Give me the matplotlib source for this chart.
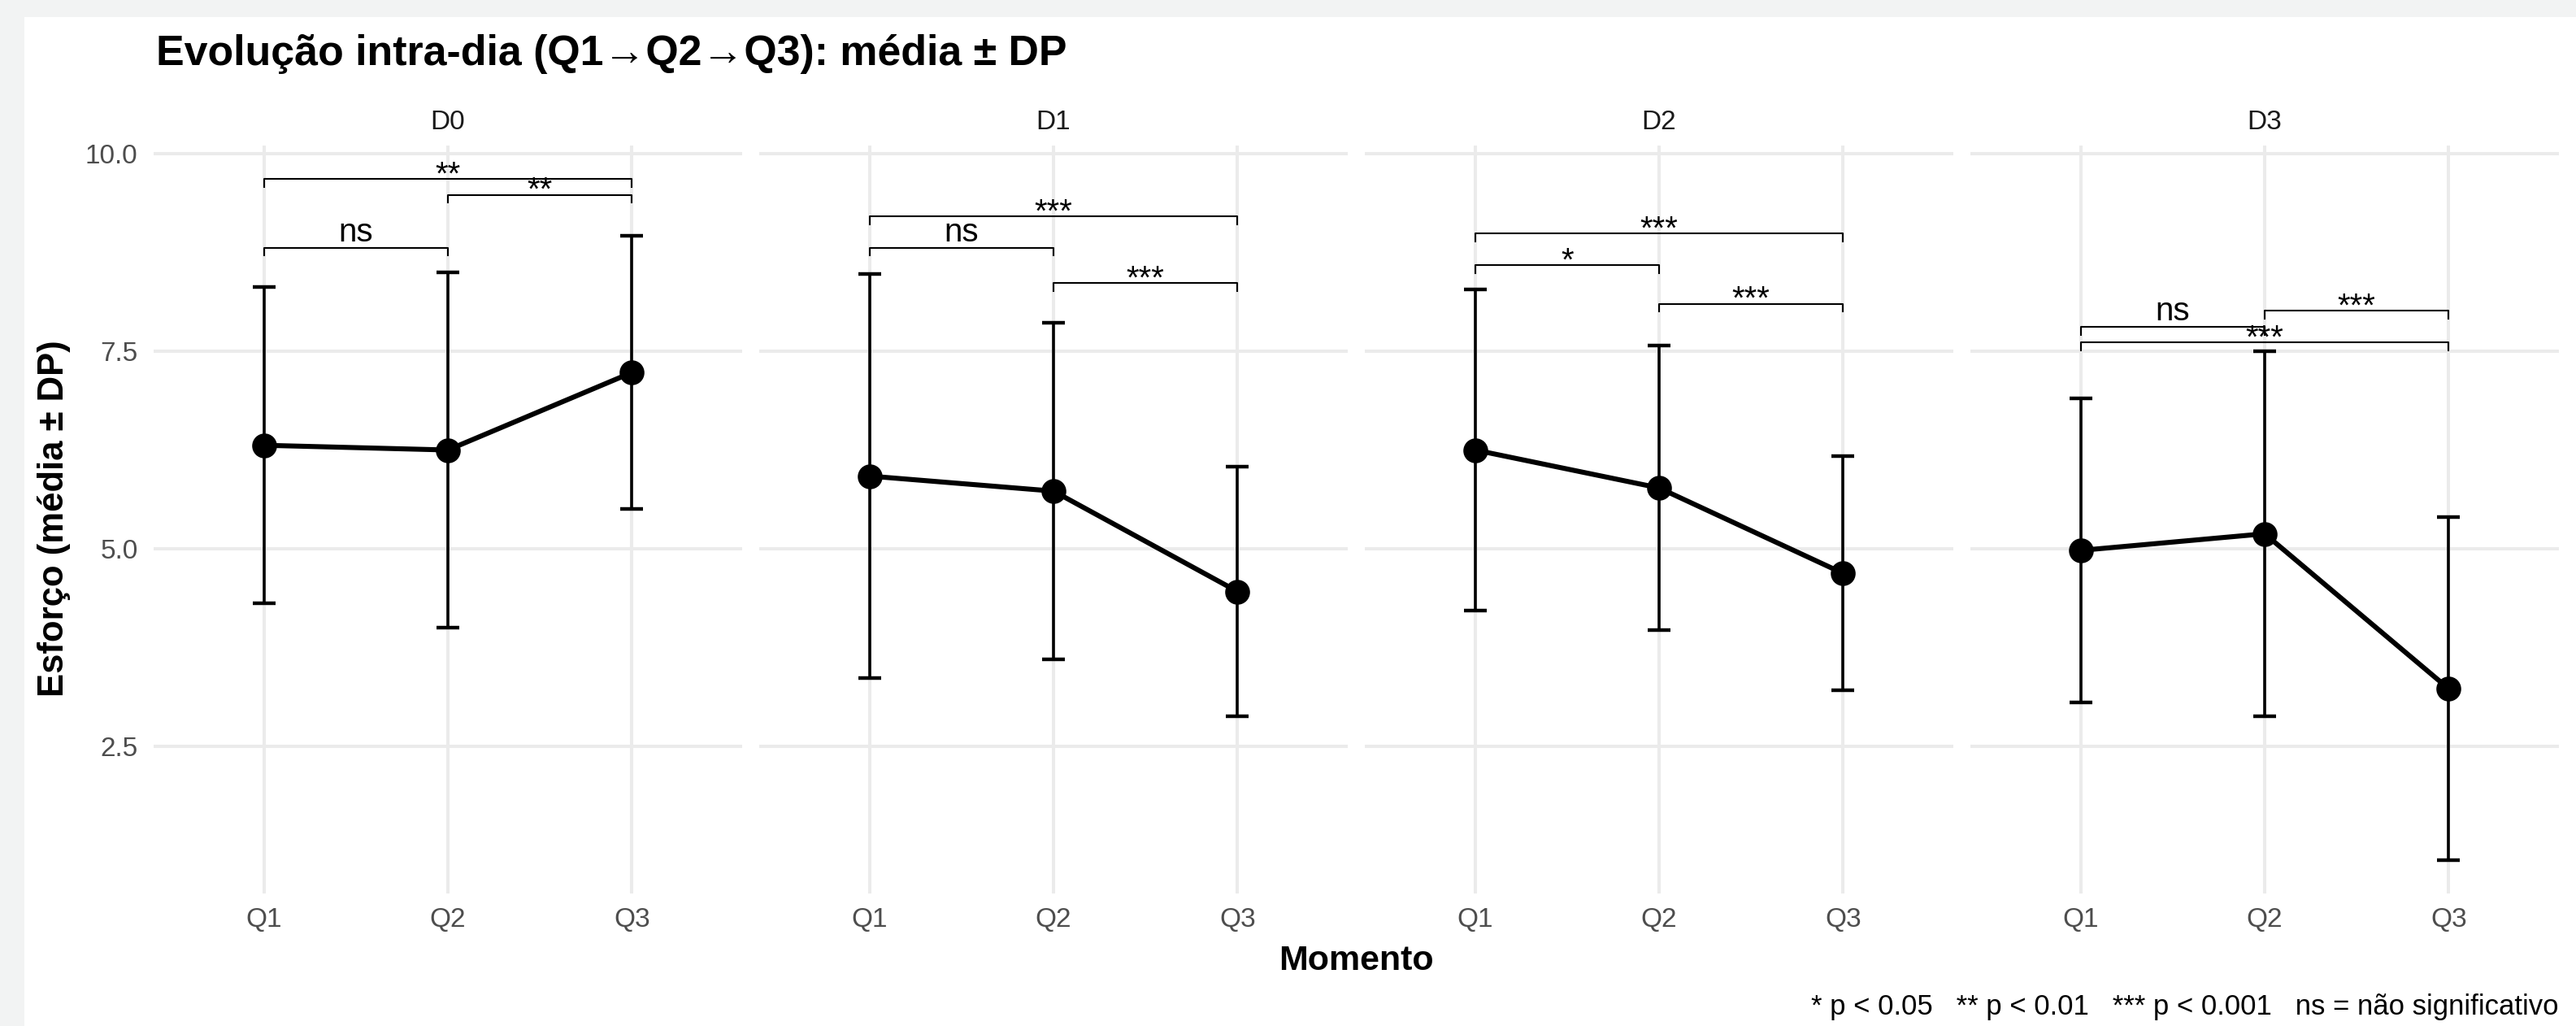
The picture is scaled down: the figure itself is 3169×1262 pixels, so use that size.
import matplotlib
matplotlib.use("Agg")
import matplotlib.pyplot as plt
from matplotlib.patches import Rectangle

plt.rcParams['font.family'] = ['Liberation Sans', 'DejaVu Sans']

# dados
dias = ['D0', 'D1', 'D2', 'D3']
momentos = ['Q1', 'Q2', 'Q3']
media_d0 = [6.31, 6.25, 7.23]
media_d1 = [5.92, 5.73, 4.46]
media_d2 = [6.25, 5.77, 4.69]
media_d3 = [4.98, 5.19, 3.23]
dp_d0 = [2.00, 2.25, 1.73]
dp_d1 = [2.56, 2.13, 1.58]
dp_d2 = [2.03, 1.80, 1.48]
dp_d3 = [1.92, 2.31, 2.17]

# comparacoes: (momento a, momento b, altura, rotulo)
comp_d0 = [(0, 2, 9.68, '**'), (1, 2, 9.48, '**'), (0, 1, 8.81, 'ns')]
comp_d1 = [(0, 2, 9.21, '***'), (0, 1, 8.81, 'ns'), (1, 2, 8.36, '***')]
comp_d2 = [(0, 2, 8.99, '***'), (0, 1, 8.59, '*'), (1, 2, 8.10, '***')]
comp_d3 = [(1, 2, 8.01, '***'), (0, 1, 7.81, 'ns'), (0, 2, 7.61, '***')]

medias = [media_d0, media_d1, media_d2, media_d3]
dps = [dp_d0, dp_d1, dp_d2, dp_d3]
comps = [comp_d0, comp_d1, comp_d2, comp_d3]

W, H = 3169, 1262
fig = plt.figure(figsize=(W / 200, H / 200), dpi=200, facecolor='#f2f3f3')
fig.patches.append(Rectangle((30 / W, 0), 1, 1 - 21 / H, transform=fig.transFigure,
                             facecolor='white', edgecolor='none', zorder=-5))

x = [1, 2, 3]
left0, pitch, width = 189, 745, 724
top, bottom = 179, 1099

for k, dia in enumerate(dias):
    ax = fig.add_axes([(left0 + k * pitch) / W, 1 - bottom / H, width / W, (bottom - top) / H])
    ax.set_facecolor('none')
    for s in ax.spines.values():
        s.set_visible(False)
    ax.set_xlim(0.4, 3.6)
    ax.set_ylim(0.638, 10.103)
    ax.set_xticks(x)
    ax.set_xticklabels(momentos)
    ax.set_yticks([2.5, 5.0, 7.5, 10.0])
    ax.set_yticklabels(['2.5', '5.0', '7.5', '10.0'] if k == 0 else [])
    ax.tick_params(length=0, labelsize=12, labelcolor='#4d4d4d')
    ax.tick_params(axis='x', pad=6)
    ax.tick_params(axis='y', pad=7)
    ax.grid(True, color='#ebebeb', lw=1.45)
    ax.set_axisbelow(True)

    ax.errorbar(x, medias[k], yerr=dps[k], fmt='none', ecolor='black',
                elinewidth=1.3, capsize=4.9, capthick=1.6, zorder=2)
    ax.plot(x, medias[k], color='black', lw=2.2, zorder=3)
    ax.plot(x, medias[k], 'o', color='black', ms=10, zorder=4)

    for a, b, y, lab in comps[k]:
        xa, xb = x[a], x[b]
        ax.plot([xa, xa, xb, xb], [y - 0.1, y, y, y - 0.1], color='black', lw=0.75, zorder=5)
        off = 2.9 if lab == 'ns' else -2.3
        ax.annotate(lab, ((xa + xb) / 2, y), xytext=(0, off), textcoords='offset points',
                    ha='center', va='baseline', fontsize=14.5, color='black', zorder=6)

    fig.text((left0 + k * pitch + width / 2) / W, 1 - 159 / H, dia, ha='center',
             va='baseline', fontsize=12, color='#1a1a1a')

fig.text(192 / W, 1 - 80 / H, 'Evolução intra-dia (Q1→Q2→Q3): média ± DP',
         ha='left', va='baseline', fontsize=18.7, fontweight='bold')
fig.text(67 / W, 1 - 638 / H, 'Esforço (média ± DP)', rotation=90, ha='center',
         va='center', fontsize=15.7, fontweight='bold')
fig.text(1668 / W, 1 - 1193 / H, 'Momento', ha='center', va='baseline',
         fontsize=15.5, fontweight='bold')
fig.text(3147 / W, 1 - 1248 / H,
         '* p < 0.05   ** p < 0.01   *** p < 0.001   ns = não significativo',
         ha='right', va='baseline', fontsize=12.5)

fig.savefig('out.png', dpi=200, facecolor=fig.get_facecolor())
